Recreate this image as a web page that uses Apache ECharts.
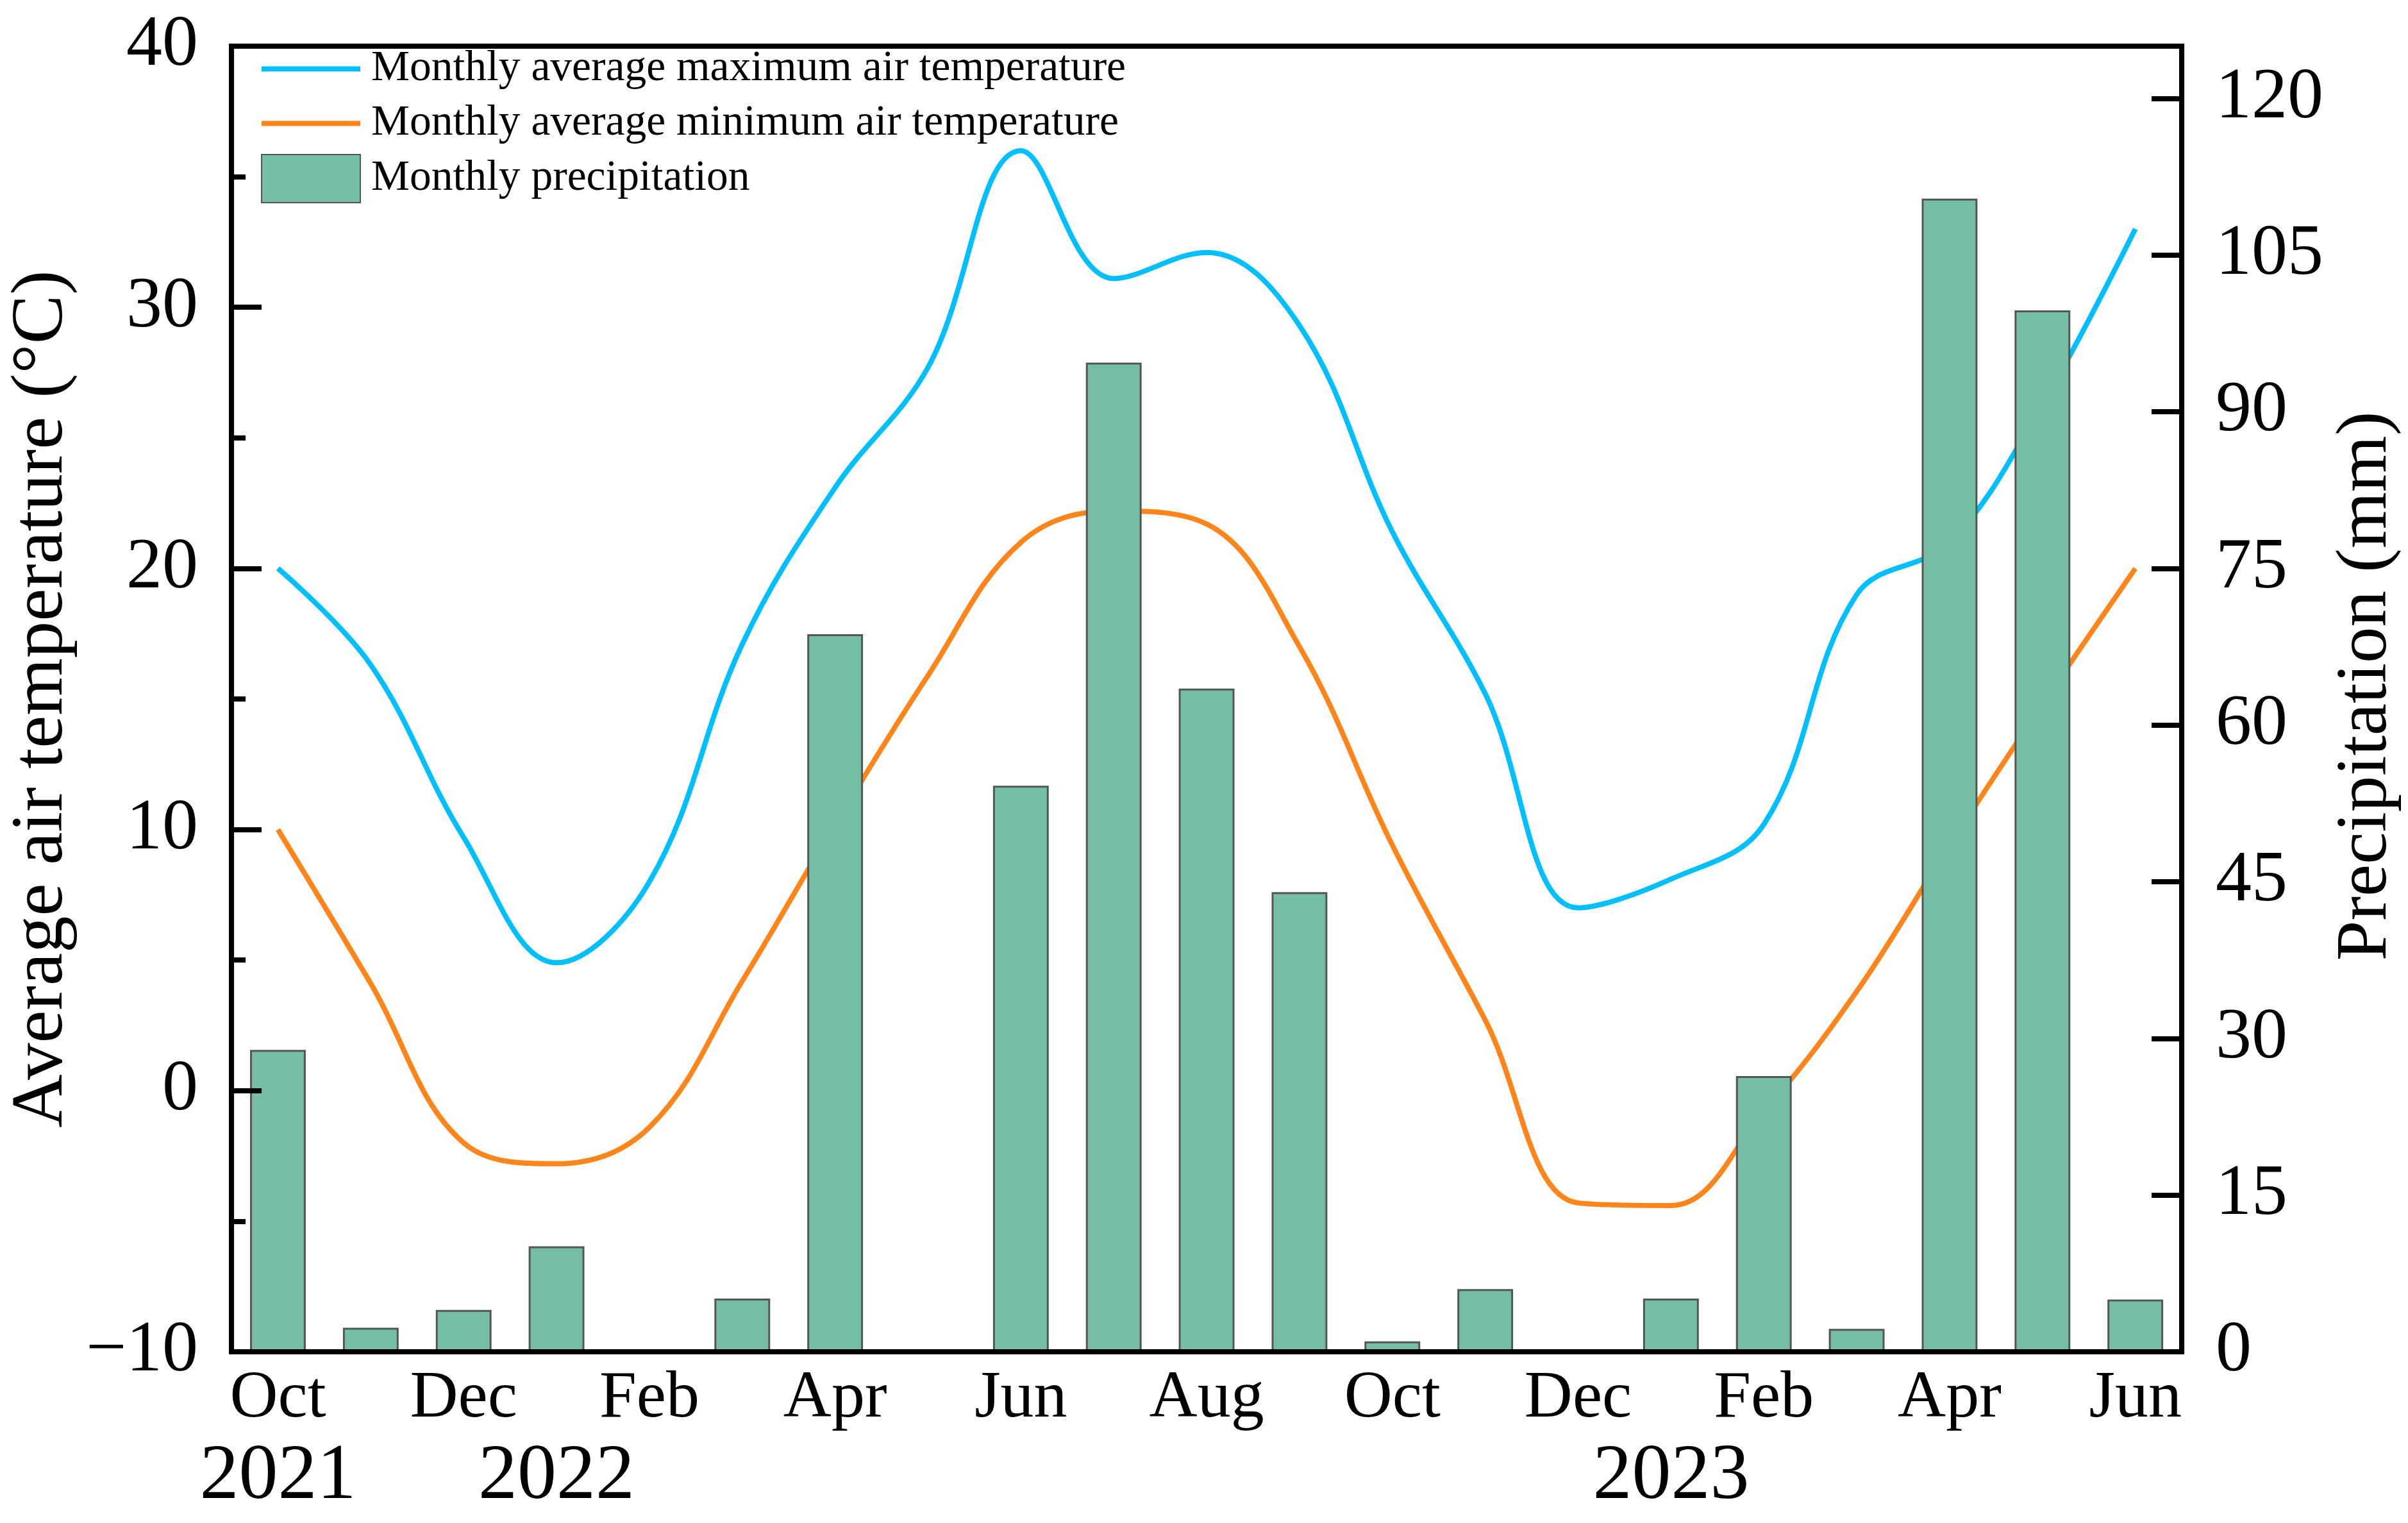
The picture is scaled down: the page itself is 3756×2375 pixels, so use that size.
<!DOCTYPE html>
<html><head><meta charset="utf-8">
<script src="https://cdn.jsdelivr.net/npm/echarts@6/dist/echarts.min.js"></script>
<style>html,body{margin:0;padding:0;background:#fff}#c{width:3756px;height:2375px}</style>
</head><body><div id="c"></div>
<script>
const categories = ['2021-10','2021-11','2021-12','2022-01','2022-02','2022-03','2022-04','2022-05','2022-06','2022-07','2022-08','2022-09','2022-10','2022-11','2022-12','2023-01','2023-02','2023-03','2023-04','2023-05','2023-06'];
const monthLabels = ['Oct','','Dec','','Feb','','Apr','','Jun','','Aug','','Oct','','Dec','','Feb','','Apr','','Jun'];
const yearLabels = ['2021','','','2022','','','','','','','','','','','','2023','','','','',''];
const maxTemp = [20.0,16.3,9.7,4.9,8.0,17.1,23.1,27.7,36.0,31.1,32.1,29.3,21.4,15.2,7.0,8.1,10.2,19.0,21.0,26.3,33.0];
const minTemp = [10.0,4.1,-2.0,-2.8,-1.4,4.2,10.2,15.9,21.0,22.2,21.7,17.0,9.4,2.7,-4.3,-4.4,-0.8,3.8,9.4,14.8,20.0];
const precipitation = [28.9,2.3,4.0,10.1,0,5.1,68.7,0,54.2,94.7,63.5,44.0,1.0,6.0,0,5.1,26.4,2.2,110.4,99.7,5.0];
const seriesNames = ['Monthly average maximum air temperature','Monthly average minimum air temperature','Monthly precipitation'];

const FONT = "'Liberation Serif','Times New Roman',serif";
const chart = echarts.init(document.getElementById('c'), null, {renderer:'canvas'});
const axisLineStyle = {show:true, onZero:false, lineStyle:{color:'#000', width:8}};
chart.setOption({
  animation:false,
  backgroundColor:'#fff',
  grid:{left:360, right:343, top:72, bottom:267, show:true, borderColor:'#000', borderWidth:8, backgroundColor:'transparent'},
  legend:{
    orient:'vertical', left:404, top:70, padding:0, itemWidth:154, itemHeight:75, itemGap:10,
    textStyle:{fontFamily:FONT, fontSize:67.5, color:'#000', lineHeight:75, padding:[0,0,0,12]},
    lineStyle:{width:8},
    data:[
      {name:seriesNames[0], itemStyle:{opacity:0}},
      {name:seriesNames[1], itemStyle:{opacity:0}},
      {name:seriesNames[2], icon:'rect'}
    ]
  },
  xAxis:[{
    type:'category', data:categories, boundaryGap:true, position:'bottom', z:5,
    axisLine:axisLineStyle, axisTick:{show:false}, splitLine:{show:false},
    axisLabel:{interval:0, margin:22, fontFamily:FONT, fontSize:104, lineHeight:104, color:'#000',
      formatter:(v,i)=>monthLabels[i]}
  },{
    type:'category', data:categories, boundaryGap:true, position:'bottom',
    axisLine:{show:false}, axisTick:{show:false}, splitLine:{show:false},
    axisLabel:{interval:0, margin:135, fontFamily:FONT, fontSize:122, lineHeight:122, color:'#000',
      formatter:(v,i)=>yearLabels[i]}
  }],
  yAxis:[{
    type:'value', position:'left', min:-10, max:40, interval:10, z:5,
    axisLine:axisLineStyle,
    axisTick:{show:true, inside:true, length:47, lineStyle:{color:'#000', width:8}},
    minorTick:{show:true, splitNumber:2, length:22, lineStyle:{color:'#000', width:8}},
    splitLine:{show:false}, minorSplitLine:{show:false},
    axisLabel:{margin:52, fontFamily:FONT, fontSize:112, lineHeight:112, color:'#000',
      formatter:v=>String(v).replace('-','\u2212')},
    name:'Average air temperature (\u00B0C)', nameLocation:'middle', nameRotate:90, nameGap:235,
    nameTextStyle:{fontFamily:FONT, fontSize:115, lineHeight:115, color:'#000'}
  },{
    type:'value', position:'right', min:0, max:125, interval:15, z:5,
    axisLine:axisLineStyle,
    axisTick:{show:true, inside:true, length:47, lineStyle:{color:'#000', width:8}},
    splitLine:{show:false},
    axisLabel:{margin:53, fontFamily:FONT, fontSize:112, lineHeight:112, color:'#000',
      formatter:v=>(v % 15 === 0 ? String(v) : '')},
    name:'Precipitation (mm)', nameLocation:'middle', nameRotate:90, nameGap:214,
    nameTextStyle:{fontFamily:FONT, fontSize:113, lineHeight:113, color:'#000', padding:[0,0,0,40]}
  }],
  series:[{
    name:seriesNames[0], type:'line', data:maxTemp, xAxisIndex:0, yAxisIndex:0,
    smooth:0.38, symbol:'none', z:2, lineStyle:{color:'#00BFFF', width:8}, itemStyle:{color:'#00BFFF'}
  },{
    name:seriesNames[1], type:'line', data:minTemp, xAxisIndex:0, yAxisIndex:0,
    smooth:0.38, symbol:'none', z:2, lineStyle:{color:'#FF851B', width:8}, itemStyle:{color:'#FF851B'}
  },{
    name:seriesNames[2], type:'bar', data:precipitation, xAxisIndex:0, yAxisIndex:1,
    barWidth:'60%', z:3, itemStyle:{color:'#74BEA6', borderColor:'#555', borderWidth:3}
  }]
});
</script></body></html>
